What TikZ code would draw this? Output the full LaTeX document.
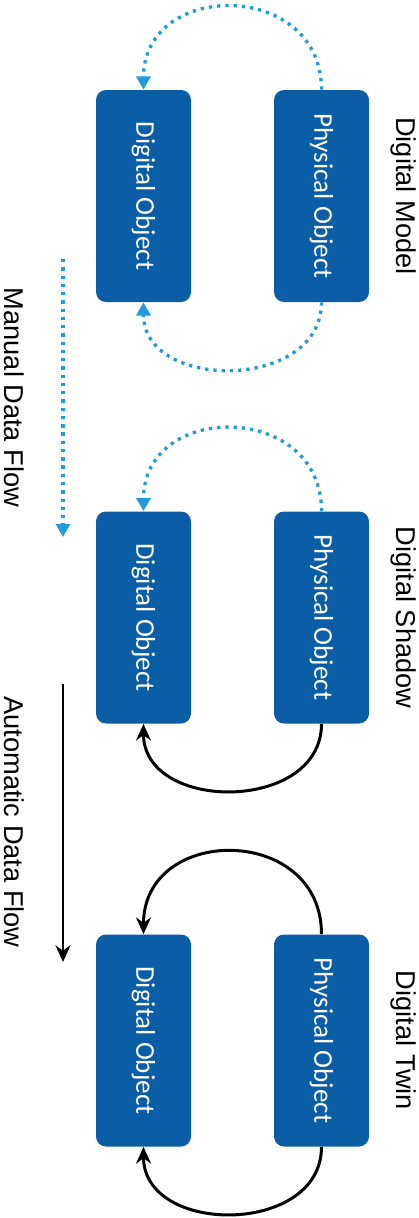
\documentclass[tikz,border=0pt]{standalone}
\usepackage{fontspec}
\setmainfont{Liberation Sans}
\newfontfamily\boxfont{Carlito}
\usetikzlibrary{arrows.meta}

\definecolor{objblue}{RGB}{11,94,166}
\definecolor{flowcyan}{RGB}{34,156,216}

\begin{document}
\begin{tikzpicture}[
    objbox/.style={fill=objblue, rounded corners=0.2cm, minimum width=1.9cm,
      minimum height=4.24cm, inner sep=0pt, text=white,
      font=\boxfont\fontsize{15.4}{18}\selectfont},
    sidelabel/.style={rotate=-90, inner sep=0pt, font=\fontsize{15.5}{18}\selectfont},
    manualflow/.style={flowcyan, line width=1.9pt, dash pattern=on 1.9pt off 2.8pt,
      -{Triangle[length=7.5pt,width=8pt]}},
    autoflow/.style={black, line width=1.7pt, -{Stealth[length=9.5pt,width=8.5pt]}}
  ]
  \useasboundingbox (0,0) rectangle (8.36,-24.36);

  % digital model
  \node[objbox] (dig1) at (2.87,-3.92) {\rotatebox{-90}{Digital Object}};
  \node[objbox] (phys1) at (6.43,-3.92) {\rotatebox{-90}{Physical Object}};
  \node[sidelabel] (model) at (8.08,-3.92) {Digital Model};
  \draw[manualflow] (phys1.north) .. controls +(0,2.2) and +(0,2.2) .. (dig1.north);
  \draw[manualflow] (phys1.south) .. controls +(0,-1.78) and +(0,-1.78) .. (dig1.south);

  % digital shadow
  \node[objbox] (dig2) at (2.87,-12.35) {\rotatebox{-90}{Digital Object}};
  \node[objbox] (phys2) at (6.43,-12.35) {\rotatebox{-90}{Physical Object}};
  \node[sidelabel] (shadow) at (8.08,-12.35) {Digital Shadow};
  \draw[manualflow] (phys2.north) .. controls +(0,2.2) and +(0,2.2) .. (dig2.north);
  \draw[autoflow] (phys2.south) .. controls +(0,-1.78) and +(0,-1.78) .. (dig2.south);

  % digital twin
  \node[objbox] (dig3) at (2.87,-20.81) {\rotatebox{-90}{Digital Object}};
  \node[objbox] (phys3) at (6.43,-20.81) {\rotatebox{-90}{Physical Object}};
  \node[sidelabel] (twin) at (8.08,-20.81) {Digital Twin};
  \draw[autoflow] (phys3.north) .. controls +(0,2.2) and +(0,2.2) .. (dig3.north);
  \draw[autoflow] (phys3.south) .. controls +(0,-1.78) and +(0,-1.78) .. (dig3.south);

  % data flow arrows on the left
  \coordinate (manualtop) at (1.26,-5.18);
  \coordinate (manualbot) at (1.26,-10.74);
  \draw[manualflow] (manualtop) -- (manualbot);
  \node[sidelabel] (manuallbl) at (0.28,-7.95) {Manual Data Flow};

  \coordinate (autotop) at (1.26,-13.68);
  \coordinate (autobot) at (1.26,-19.24);
  \draw[autoflow] (autotop) -- (autobot);
  \node[sidelabel] (autolbl) at (0.28,-16.44) {Automatic Data Flow};
\end{tikzpicture}
\end{document}
